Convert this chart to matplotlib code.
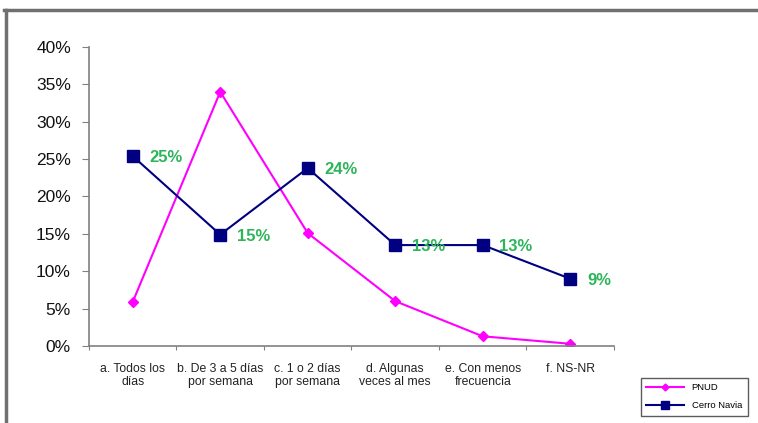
import matplotlib
matplotlib.use("Agg")
from matplotlib import pyplot as plt
from matplotlib.lines import Line2D
import numpy as np

plt.rcParams['font.family'] = ['Liberation Sans', 'DejaVu Sans']

categories = ["a. Todos los\ndías", "b. De 3 a 5 días\npor semana", "c. 1 o 2 días\npor semana",
              "d. Algunas\nveces al mes", "e. Con menos\nfrecuencia", "f. NS-NR"]
pnud = [5.9, 34.0, 15.1, 6.0, 1.3, 0.3]
cerro_navia = [25.4, 14.9, 23.8, 13.5, 13.5, 9.0]
cerro_labels = ["25%", "15%", "24%", "13%", "13%", "9%"]
yticks = [0, 5, 10, 15, 20, 25, 30, 35, 40]

fig = plt.figure(figsize=(7.58, 4.23), dpi=100)
ax = fig.add_axes([0.1174, 0.182, 0.6926, 0.707])

x = np.arange(len(categories))
l1, = ax.plot(x, pnud, color="#FF00FF", marker="D", markersize=5, lw=1.5, label="PNUD")
l2, = ax.plot(x, cerro_navia, color="#000080", marker="s", markersize=8, lw=1.5, label="Cerro Navia")

for xi, yi, txt in zip(x, cerro_navia, cerro_labels):
    ax.annotate(txt, (xi, yi), xytext=(12, -1), textcoords="offset points",
                ha="left", va="center", color="#2DB55A", fontsize=12, fontweight="bold")

ax.set_xlim(-0.5, 5.5)
ax.set_ylim(0, 40)
ax.set_yticks(yticks)
ax.set_yticklabels([f"{v}%" for v in yticks], fontsize=12.5, color="#111111")
ax.set_xticks(np.arange(-0.5, 6.0, 1.0))
ax.set_xticklabels([])
ax.set_xticks(x, minor=True)
ax.set_xticklabels(categories, minor=True, fontsize=8.8, color="#222222", linespacing=1.1)
ax.tick_params(axis="x", which="minor", length=0, pad=12)
ax.tick_params(axis="x", which="major", length=3, color="#808080", direction="out")
ax.tick_params(axis="y", length=5, color="#808080", direction="out", pad=8)

for s in ["top", "right"]:
    ax.spines[s].set_visible(False)
for s in ["left", "bottom"]:
    ax.spines[s].set_color("#808080")
    ax.spines[s].set_linewidth(1.2)

leg = fig.legend(handles=[l1, l2], loc="upper left", bbox_to_anchor=(636 / 758, 1 - 373 / 423),
                 fontsize=6.8, frameon=True, fancybox=False, edgecolor="#333333",
                 handlelength=4, borderpad=0.6, labelspacing=0.9, markerscale=0.7)
leg.get_frame().set_linewidth(1.0)

# outer frame of the picture
fig.add_artist(Line2D([4 / 758, 1], [1 - 10 / 423] * 2, color="#707070", lw=2.5, transform=fig.transFigure))
fig.add_artist(Line2D([6 / 758] * 2, [0, 1 - 10 / 423], color="#707070", lw=2.5, transform=fig.transFigure))

fig.savefig("out.png", dpi=100)
